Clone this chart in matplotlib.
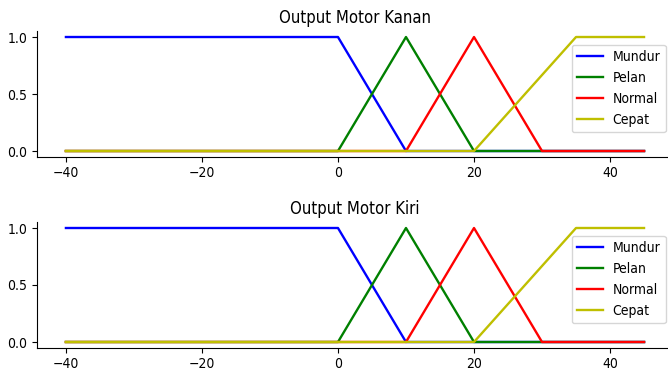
import matplotlib
matplotlib.use('Agg')
import matplotlib.pyplot as plt

# membership breakpoints
mundur_x = [-40, 0, 10, 45]
mundur_y = [1, 1, 0, 0]
pelan_x = [-40, 0, 10, 20, 45]
pelan_y = [0, 0, 1, 0, 0]
normal_x = [-40, 10, 20, 30, 45]
normal_y = [0, 0, 1, 0, 0]
cepat_x = [-40, 20, 35, 45]
cepat_y = [0, 0, 1, 1]

titles = ['Output Motor Kanan', 'Output Motor Kiri']
labels = ['Mundur', 'Pelan', 'Normal', 'Cepat']
colors = ['b', 'g', 'r', 'y']

plt.rcParams['font.family'] = 'DejaVu Sans'
plt.rcParams['font.stretch'] = 'condensed'

fig = plt.figure(figsize=(6.68, 3.80), dpi=100)
ax1 = fig.add_axes([0.0554, 0.5876, 0.952, 0.330])
ax2 = fig.add_axes([0.0554, 0.0850, 0.952, 0.330])

series = [(mundur_x, mundur_y), (pelan_x, pelan_y),
          (normal_x, normal_y), (cepat_x, cepat_y)]

for ax, title in zip([ax1, ax2], titles):
    for (xs, ys), lab, c in zip(series, labels, colors):
        ax.plot(xs, ys, c, linewidth=1.7, label=lab)
    ax.set_title(title, fontsize=12)
    ax.spines['top'].set_visible(False)
    ax.spines['right'].set_visible(False)
    ax.set_xticks([-40, -20, 0, 20, 40])
    ax.set_yticks([0.0, 0.5, 1.0])
    ax.legend(loc='upper right', bbox_to_anchor=(1.0, 0.95),
              handlelength=1.85, handletextpad=0.7)

fig.savefig('out.png', dpi=100)
